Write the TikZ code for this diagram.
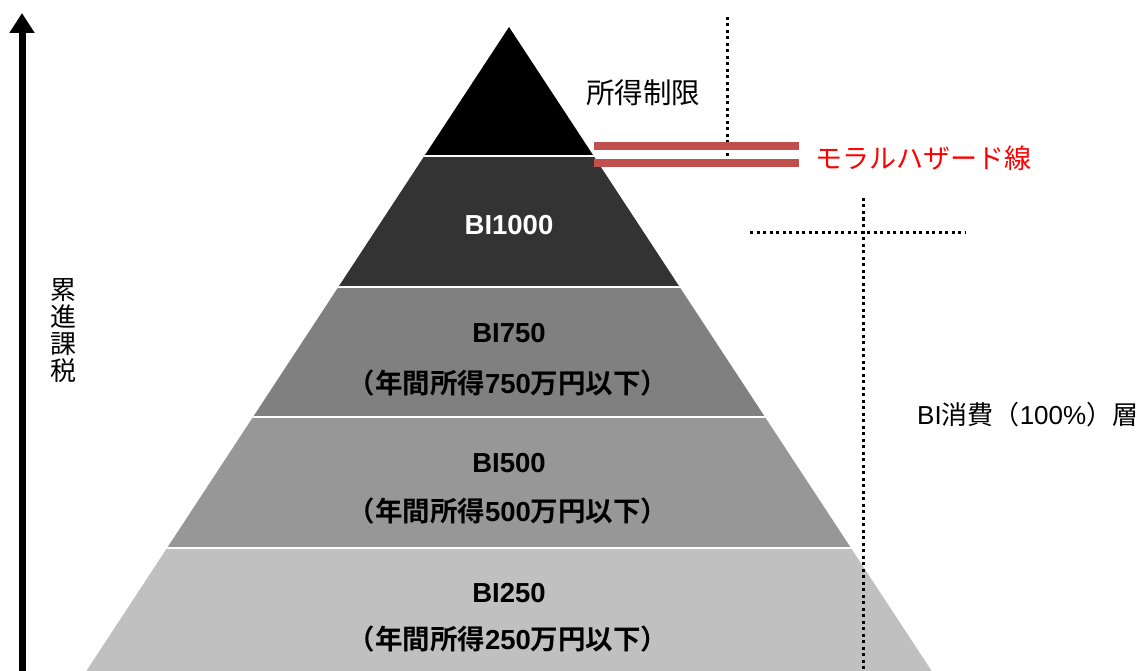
\documentclass[tikz,border=0pt]{standalone}
\usepackage{fontspec}
\setmainfont{Liberation Sans}
\newfontfamily\jp{Noto Sans CJK JP}[BoldFont={Noto Sans CJK JP Bold}]
\usetikzlibrary{arrows.meta}
\definecolor{lay0}{HTML}{000000}
\definecolor{lay1}{HTML}{333333}
\definecolor{lay2}{HTML}{808080}
\definecolor{lay3}{HTML}{979797}
\definecolor{lay4}{HTML}{C0C0C0}
\definecolor{mhred}{HTML}{C0504D}
\definecolor{txtred}{HTML}{FF0000}
\tikzset{
  lbl/.style={font=\fontsize{27.5}{30}\selectfont\bfseries, text=black, inner sep=0pt},
  sub/.style={font=\fontsize{27.5}{30}\selectfont\bfseries, text=black, inner sep=0pt},
  dots/.style={line width=3pt, dash pattern=on 3pt off 3.5pt},
  mh/.style={line width=8pt, mhred},
}
\begin{document}
\begin{tikzpicture}[x=1pt,y=-1pt]
\useasboundingbox (0,0) rectangle (1140,671);
% pyramid
\begin{scope}
\clip (509,27) -- (931.7,671) -- (86.3,671) -- cycle;
\fill[lay0] (0,0) rectangle (1140,156);
\fill[lay1] (0,156) rectangle (1140,287);
\fill[lay2] (0,287) rectangle (1140,417);
\fill[lay3] (0,417) rectangle (1140,548);
\fill[lay4] (0,548) rectangle (1140,671);
\foreach \yy in {156,287,417,548} \draw[white, line width=2pt] (0,\yy) -- (1140,\yy);
\end{scope}
% labels
\node[lbl, text=white] (b1000) at (509,225) {BI1000};
\node[lbl] (b750) at (509,333) {BI750};
\node[sub] (b750s) at (508,383) {{\jp （年間所得}750{\jp 万円以下）}};
\node[lbl] (b500) at (509,463) {BI500};
\node[sub] (b500s) at (508,511) {{\jp （年間所得}500{\jp 万円以下）}};
\node[lbl] (b250) at (509,593) {BI250};
\node[sub] (b250s) at (508,639) {{\jp （年間所得}250{\jp 万円以下）}};
% left arrow
\coordinate (abot) at (22,671);
\coordinate (atop) at (22,13);
\draw[line width=7pt, -{Triangle[width=24pt,length=20pt]}] (abot) -- (atop);
\node[font=\jp\fontsize{26}{27}\selectfont, align=center, inner sep=0pt] (prog) at (63,331) {累\\進\\課\\税};
% income limit
\node[font=\jp\fontsize{28.5}{32}\selectfont, inner sep=0pt] (lim) at (643,93) {所得制限};
\coordinate (v1t) at (727,17);
\coordinate (v1b) at (727,157);
\draw[dots] (v1t) -- (v1b);
% moral hazard line
\coordinate (m1a) at (594,146); \coordinate (m1b) at (799,146);
\coordinate (m2a) at (594,163); \coordinate (m2b) at (799,163);
\draw[mh] (m1a) -- (m1b);
\draw[mh] (m2a) -- (m2b);
\node[font=\jp\fontsize{27}{30}\selectfont, text=txtred, anchor=west, inner sep=0pt] (mhl) at (815,158) {モラルハザード線};
% BI consumption layer
\coordinate (h1a) at (750,232); \coordinate (h1b) at (965,232);
\draw[dots] (h1a) -- (h1b);
\coordinate (v2t) at (863,198); \coordinate (v2b) at (863,671);
\draw[dots] (v2t) -- (v2b);
\node[font=\fontsize{26}{30}\selectfont, anchor=west, inner sep=0pt] (cons) at (917,415) {BI{\jp 消費（}100\%{\jp ）層}};
\end{tikzpicture}
\end{document}
